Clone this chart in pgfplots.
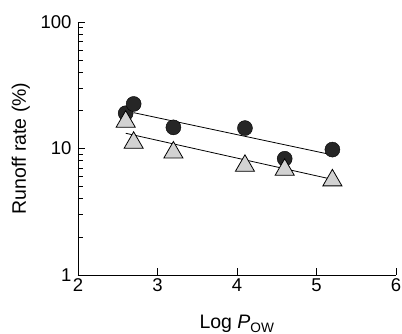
\documentclass[border=0pt]{standalone}
\usepackage{pgfplots}
\pgfplotsset{compat=1.18}
\usepackage{fontspec}
\setmainfont{Liberation Sans}
\begin{document}
\begin{tikzpicture}
\begin{axis}[
  at={(0,0)}, anchor=origin,
  scale only axis, width=318pt, height=253pt,
  xmin=2, xmax=6, ymin=1, ymax=100,
  ymode=log,
  axis x line*=bottom, axis y line*=left,
  xtick={2,3,4,5,6},
  ytick={1,10,100},
  yticklabels={1,10,100},
  minor ytick={2,3,4,5,6,7,8,9,20,30,40,50,60,70,80,90},
  tick align=inside,
  major tick length=7pt, minor tick length=5pt,
  tick style={black, line width=0.8pt},
  axis line style={line width=0.9pt},
  tick label style={font=\fontsize{18.5}{20}\selectfont},
  yticklabel style={xshift=-3pt},
  /pgf/number format/assume math mode=true,
  log ticks with fixed point,
  xlabel={Log \textit{P}\textsubscript{OW}},
  ylabel={Runoff rate (\%)},
  label style={font=\fontsize{19.5}{22}\selectfont},
  xlabel style={at={(axis description cs:0.5,0)}, anchor=base, yshift=-54pt},
  ylabel style={at={(axis description cs:0,0.5)}, anchor=base, yshift=52pt},
  clip=false,
]
\addplot[black, line width=0.8pt] coordinates {(2.7,19.2) (5.2,8.9)};
\addplot[black, line width=0.8pt] coordinates {(2.6,13.2) (5.2,5.7)};
\addplot[only marks, mark=*, mark size=7.5pt, mark options={fill=black!85, draw=black}] coordinates {
(2.6,19.0) (2.7,22.5) (3.2,14.7) (4.1,14.5) (4.6,8.3) (5.2,9.8)};
\addplot[only marks, mark=triangle*, mark size=11pt, mark options={fill=gray!35, draw=black, line width=0.8pt}] coordinates {
(2.6,16.3) (2.7,11.1) (3.2,9.3) (4.1,7.3) (4.6,6.8) (5.2,5.6)};
\end{axis}
\pgfresetboundingbox
\path[use as bounding box] (-78pt,-59pt) rectangle (324pt,275pt);
\end{tikzpicture}
\end{document}
